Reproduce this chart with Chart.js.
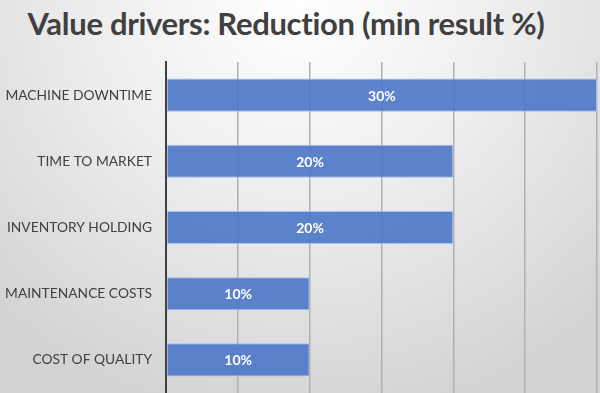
<!DOCTYPE html>
<html>
<head>
<meta charset="utf-8">
<script src="https://cdn.jsdelivr.net/npm/chart.js@4"></script>
<style>
  html, body { margin: 0; padding: 0; }
  #wrap {
    position: relative;
    width: 600px;
    height: 393px;
    background: radial-gradient(ellipse 75% 110% at 50% 0%, #ffffff 0%, #eeeeee 45%, #d2d2d2 100%);
    overflow: hidden;
  }
  #title {
    position: absolute;
    left: 0; top: 4px; width: 572px;
    text-align: center;
    font: bold 31px Lato, "Open Sans", sans-serif;
    color: #404040;
    margin: 0;
    letter-spacing: -0.3px;
  }
  canvas { position: absolute; left: 0; top: 0; }
</style>
</head>
<body>
<div id="wrap">
  <h1 id="title">Value drivers: Reduction (min result %)</h1>
  <canvas id="chart" width="600" height="393"></canvas>
</div>
<script>
var categories = ['MACHINE DOWNTIME', 'TIME TO MARKET', 'INVENTORY HOLDING', 'MAINTENANCE COSTS', 'COST OF QUALITY'];
var values = [30, 20, 20, 10, 10];
var xTicks = [0, 5, 10, 15, 20, 25, 30];

// write the value in the middle of each bar
var barLabels = {
  id: 'barLabels',
  afterDatasetsDraw: function(chart) {
    var ctx = chart.ctx;
    ctx.save();
    ctx.font = 'bold 14px Lato, "Open Sans", sans-serif';
    ctx.fillStyle = '#ffffff';
    ctx.textAlign = 'center';
    ctx.textBaseline = 'middle';
    chart.getDatasetMeta(0).data.forEach(function(bar, i) {
      var mid = (bar.x + bar.base) / 2;
      ctx.fillText(values[i] + '%', mid, bar.y + 1);
    });
    ctx.restore();
  }
};

new Chart(document.getElementById('chart').getContext('2d'), {
  type: 'bar',
  data: {
    labels: categories,
    datasets: [{
      data: values,
      backgroundColor: 'rgba(78, 120, 200, 0.92)',
      borderColor: 'rgba(160, 190, 235, 0.9)',
      borderWidth: 1,
      borderSkipped: false,
      barPercentage: 0.5,
      categoryPercentage: 1
    }]
  },
  options: {
    indexAxis: 'y',
    responsive: false,
    animation: false,
    layout: { padding: { top: 62, right: 3, bottom: 0, left: 0 } },
    plugins: {
      legend: { display: false },
      title: { display: false },
      tooltip: { enabled: false }
    },
    scales: {
      x: {
        min: 0,
        max: 30,
        afterBuildTicks: function(scale) {
          scale.ticks = xTicks.map(function(v) { return { value: v }; });
        },
        afterFit: function(scale) { scale.height = 0; },
        ticks: { display: false },
        grid: { color: '#b0b0b0', lineWidth: 1.5, drawTicks: false },
        border: { display: false }
      },
      y: {
        afterFit: function(scale) {
          scale.width = 166;
          // labels sit in the middle of each band, no need for end padding
          scale.paddingTop = 0;
          scale.paddingBottom = 0;
        },
        ticks: {
          color: '#404040',
          font: { family: 'Lato, "Open Sans", sans-serif', size: 13.8 },
          padding: 14
        },
        grid: { display: false, drawTicks: false },
        border: { display: true, color: '#404040', width: 2 }
      }
    }
  },
  plugins: [barLabels]
});
</script>
</body>
</html>
